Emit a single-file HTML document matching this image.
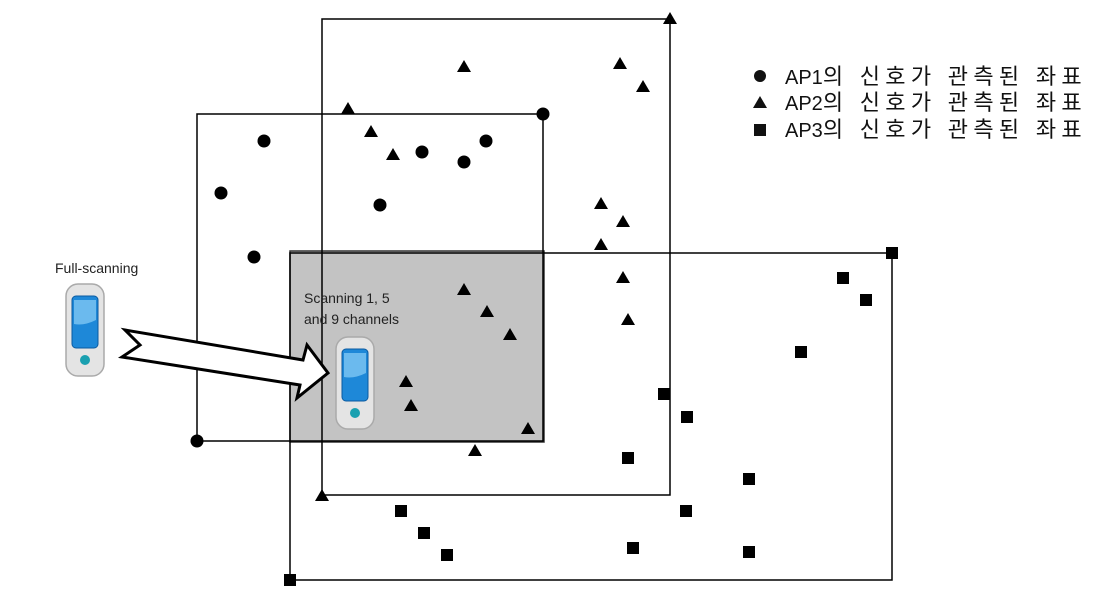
<!DOCTYPE html>
<html><head><meta charset="utf-8"><style>body{margin:0;background:#fff}svg{display:block}</style></head><body>
<svg width="1106" height="607" viewBox="0 0 1106 607" xmlns="http://www.w3.org/2000/svg">
<defs>
<g id="phone">
<rect x="0" y="0" width="38" height="92" rx="12" fill="#e4e4e4" stroke="#aaa" stroke-width="1.5"/>
<rect x="6" y="12" width="26" height="52" rx="4" fill="#1e88d8" stroke="#0b5aa0"/>
<path d="M8 16 L30 16 L30 36 Q18 42 8 40 Z" fill="#8cd0f8" opacity="0.7"/>
<circle cx="19" cy="76" r="5" fill="#1aa0b0"/>
</g>
</defs>
<rect x="290" y="251" width="254" height="191" fill="#c3c3c3" stroke="#333" stroke-width="1.5"/>
<g fill="none" stroke="#000" stroke-width="1.5">
<rect x="197" y="114" width="346" height="327"/>
<rect x="322" y="19" width="348" height="476"/>
<rect x="290" y="253" width="602" height="327"/>
</g>
<g fill="#000">
<circle cx="264" cy="141" r="6.5"/><circle cx="221" cy="193" r="6.5"/><circle cx="254" cy="257" r="6.5"/>
<circle cx="422" cy="152" r="6.5"/><circle cx="464" cy="162" r="6.5"/><circle cx="486" cy="141" r="6.5"/>
<circle cx="380" cy="205" r="6.5"/><circle cx="543" cy="114" r="6.5"/><circle cx="197" cy="441" r="6.5"/>
</g>
<g fill="#000">
<path d="M464 60l7 12h-14z M620 57l7 12h-14z M643 80l7 12h-14z M348 102l7 12h-14z M371 125l7 12h-14z M393 148l7 12h-14z M601 197l7 12h-14z M623 215l7 12h-14z M601 238l7 12h-14z M623 271l7 12h-14z M628 313l7 12h-14z M464 283l7 12h-14z M487 305l7 12h-14z M510 328l7 12h-14z M406 375l7 12h-14z M411 399l7 12h-14z M528 422l7 12h-14z M475 444l7 12h-14z M322 489l7 12h-14z M670 12l7 12h-14z"/>
</g>
<g fill="#000">
<rect x="886" y="247" width="12" height="12"/><rect x="837" y="272" width="12" height="12"/><rect x="860" y="294" width="12" height="12"/>
<rect x="795" y="346" width="12" height="12"/><rect x="658" y="388" width="12" height="12"/><rect x="681" y="411" width="12" height="12"/>
<rect x="622" y="452" width="12" height="12"/><rect x="743" y="473" width="12" height="12"/><rect x="680" y="505" width="12" height="12"/>
<rect x="395" y="505" width="12" height="12"/><rect x="418" y="527" width="12" height="12"/><rect x="441" y="549" width="12" height="12"/>
<rect x="627" y="542" width="12" height="12"/><rect x="743" y="546" width="12" height="12"/><rect x="284" y="574" width="12" height="12"/>
</g>
<polygon points="125,330 303,360 307,345 328,373 297,398 300,385 122,357 140,345" fill="#fff" stroke="#000" stroke-width="3" stroke-linejoin="miter"/>
<use href="#phone" x="66" y="284"/>
<use href="#phone" x="336" y="337"/>
<g font-family="Liberation Sans, sans-serif" font-size="14" fill="#222">
<text x="55" y="273">Full-scanning</text>
<text x="304" y="303">Scanning 1, 5</text>
<text x="304" y="324">and 9 channels</text>
</g>
<g font-family="Liberation Sans, 'Noto Sans CJK KR', sans-serif" fill="#111">
<circle cx="760" cy="76" r="6"/>
<path d="M760 96l7 12h-14z"/>
<rect x="754" y="124" width="12" height="12"/>
<text x="785" y="84" font-size="20">AP1<tspan font-size="22" letter-spacing="5.3">의 신호가 관측된 좌표</tspan></text>
<text x="785" y="110" font-size="20">AP2<tspan font-size="22" letter-spacing="5.3">의 신호가 관측된 좌표</tspan></text>
<text x="785" y="137" font-size="20">AP3<tspan font-size="22" letter-spacing="5.3">의 신호가 관측된 좌표</tspan></text>
</g>
</svg>
</body></html>
